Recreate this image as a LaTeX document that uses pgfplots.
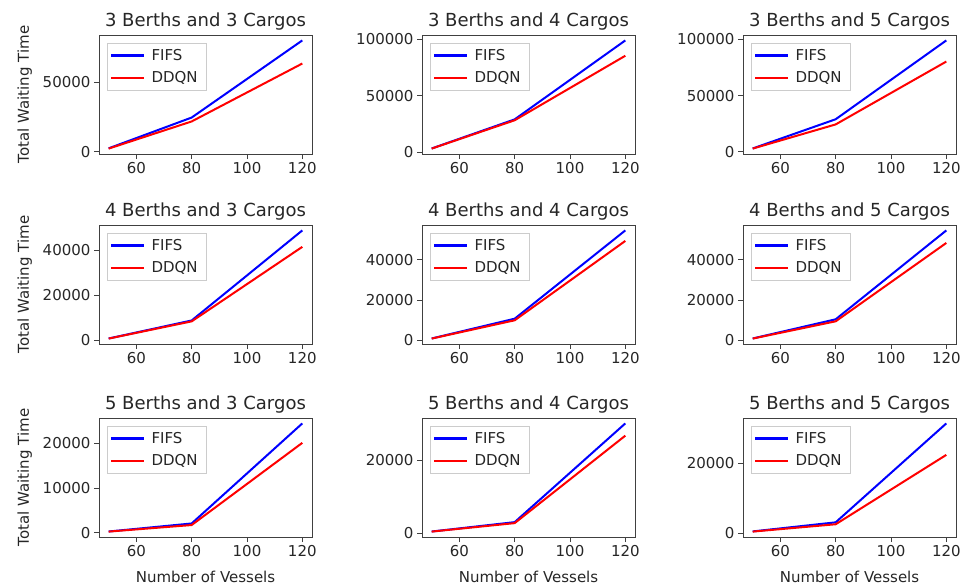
\documentclass[border=0pt]{standalone}
\usepackage{fontspec}
\setmainfont{DejaVu Sans}
\usepackage{pgfplots}
\pgfplotsset{compat=1.18}

\definecolor{txt}{gray}{0.15}
\definecolor{spine}{gray}{0.25}

\pgfplotsset{
  panel/.style={
    scale only axis, width=213pt, height=119pt,
    anchor=north west,
    xmin=46.5, xmax=123.5,
    enlarge y limits=0.05,
    xtick={60,80,100,120},
    scaled y ticks=false,
    tick align=outside, tick pos=left,
    major tick length=5pt,
    every tick/.append style={spine, line width=0.8pt},
    axis line style={spine, line width=0.8pt},
    tick label style={font=\fontsize{15}{18}\selectfont, text=txt},
    yticklabel style={/pgf/number format/fixed, /pgf/number format/1000 sep={}},
    /pgf/number format/assume math mode=true,
    title style={font=\fontsize{18}{21}\selectfont, text=txt, yshift=-5pt},
    label style={font=\fontsize{15}{18}\selectfont, text=txt},
    ylabel style={yshift=4pt},
    xlabel style={yshift=-7pt},
    legend style={at={(0,1)}, anchor=north west, xshift=8pt, yshift=-8pt,
      draw=black!20, fill=white,
      nodes={font=\fontsize{15}{18}\selectfont, text=txt, inner xsep=6pt},
      inner xsep=3pt, inner ysep=4pt, row sep=6pt},
    legend cell align=left,
    legend image code/.code={%
      \draw[#1, line width=2.3pt] (0pt,0pt) -- (33pt,0pt);},
    every axis plot/.append style={line width=2pt, no markers},
  },
}

\begin{document}
\begin{tikzpicture}
\useasboundingbox (0,0) rectangle (965pt,-588pt);

% ---- row 1: 3 berths ----
\begin{axis}[panel, at={(99pt,-35pt)}, title={3 Berths and 3 Cargos},
  ytick={0,50000}, ylabel={Total Waiting Time}]
\addplot[color=blue] coordinates {(50,2500) (80,24600) (120,80000)};
\addlegendentry{FIFS}
\addplot[color=red] coordinates {(50,2300) (80,21800) (120,63400)};
\addlegendentry{DDQN}
\end{axis}

\begin{axis}[panel, at={(422pt,-35pt)}, title={3 Berths and 4 Cargos},
  ytick={0,50000,100000}]
\addplot[color=blue] coordinates {(50,3200) (80,29000) (120,99000)};
\addlegendentry{FIFS}
\addplot[color=red] coordinates {(50,3100) (80,28200) (120,85400)};
\addlegendentry{DDQN}
\end{axis}

\begin{axis}[panel, at={(743pt,-35pt)}, title={3 Berths and 5 Cargos},
  ytick={0,50000,100000}]
\addplot[color=blue] coordinates {(50,3000) (80,29000) (120,99100)};
\addlegendentry{FIFS}
\addplot[color=red] coordinates {(50,2900) (80,24400) (120,80300)};
\addlegendentry{DDQN}
\end{axis}

% ---- row 2: 4 berths ----
\begin{axis}[panel, at={(99pt,-225pt)}, title={4 Berths and 3 Cargos},
  ytick={0,20000,40000}, ylabel={Total Waiting Time}]
\addplot[color=blue] coordinates {(50,900) (80,8900) (120,48900)};
\addlegendentry{FIFS}
\addplot[color=red] coordinates {(50,850) (80,8500) (120,41600)};
\addlegendentry{DDQN}
\end{axis}

\begin{axis}[panel, at={(422pt,-225pt)}, title={4 Berths and 4 Cargos},
  ytick={0,20000,40000}]
\addplot[color=blue] coordinates {(50,1000) (80,10800) (120,54500)};
\addlegendentry{FIFS}
\addplot[color=red] coordinates {(50,950) (80,10000) (120,49300)};
\addlegendentry{DDQN}
\end{axis}

\begin{axis}[panel, at={(743pt,-225pt)}, title={4 Berths and 5 Cargos},
  ytick={0,20000,40000}]
\addplot[color=blue] coordinates {(50,1000) (80,10500) (120,54500)};
\addlegendentry{FIFS}
\addplot[color=red] coordinates {(50,950) (80,9500) (120,48300)};
\addlegendentry{DDQN}
\end{axis}

% ---- row 3: 5 berths ----
\begin{axis}[panel, at={(99pt,-418pt)}, title={5 Berths and 3 Cargos},
  ytick={0,10000,20000}, ylabel={Total Waiting Time},
  xlabel={Number of Vessels}]
\addplot[color=blue] coordinates {(50,300) (80,2100) (120,24500)};
\addlegendentry{FIFS}
\addplot[color=red] coordinates {(50,280) (80,1750) (120,20150)};
\addlegendentry{DDQN}
\end{axis}

\begin{axis}[panel, at={(422pt,-418pt)}, title={5 Berths and 4 Cargos},
  ytick={0,20000}, xlabel={Number of Vessels}]
\addplot[color=blue] coordinates {(50,400) (80,2970) (120,30000)};
\addlegendentry{FIFS}
\addplot[color=red] coordinates {(50,380) (80,2700) (120,26650)};
\addlegendentry{DDQN}
\end{axis}

\begin{axis}[panel, at={(743pt,-418pt)}, title={5 Berths and 5 Cargos},
  ytick={0,20000}, xlabel={Number of Vessels}]
\addplot[color=blue] coordinates {(50,500) (80,3100) (120,31400)};
\addlegendentry{FIFS}
\addplot[color=red] coordinates {(50,450) (80,2550) (120,22400)};
\addlegendentry{DDQN}
\end{axis}

\end{tikzpicture}
\end{document}
